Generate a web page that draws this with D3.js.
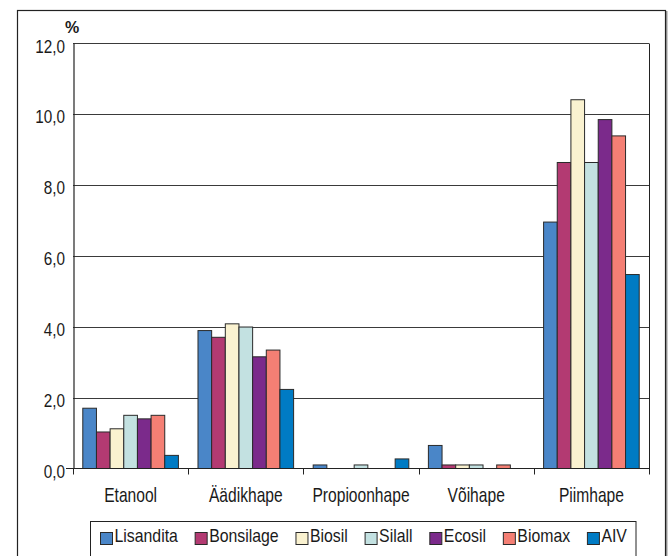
<!DOCTYPE html>
<html>
<head>
<meta charset="utf-8">
<script src="https://cdn.jsdelivr.net/npm/d3@7/dist/d3.min.js"></script>
<style>
  html, body { margin: 0; padding: 0; background: #fff; }
  svg { display: block; font-family: "Liberation Sans", Arial, sans-serif; }
</style>
</head>
<body>
<svg id="chart" width="671" height="556"></svg>
<script>
// Acid content of silages by additive, %
const categories = ["Etanool", "Äädikhape", "Propioonhape", "Võihape", "Piimhape"];
const seriesNames = ["Lisandita", "Bonsilage", "Biosil", "Silall", "Ecosil", "Biomax", "AIV"];
const seriesColors = ["#4A86C8", "#B33A72", "#FAF2D0", "#C3E1E1", "#7B2A8B", "#F47F74", "#007BC4"];

const lisandita = [1.70, 3.89, 0.10, 0.65, 6.95];
const bonsilage = [1.03, 3.70, 0.00, 0.10, 8.63];
const biosil    = [1.12, 4.08, 0.00, 0.10, 10.40];
const silall    = [1.50, 3.99, 0.10, 0.10, 8.63];
const ecosil    = [1.40, 3.15, 0.00, 0.00, 9.84];
const biomax    = [1.50, 3.34, 0.00, 0.10, 9.38];
const aiv       = [0.37, 2.23, 0.27, 0.00, 5.47];
const seriesValues = [lisandita, bonsilage, biosil, silall, ecosil, biomax, aiv];

const yTicks = [0, 2, 4, 6, 8, 10, 12];
const yUnit = "%";

const svg = d3.select("#chart");
const plot = { left: 73, right: 649, top: 43, bottom: 468.5 };

// Outer frame with a soft shadow on the right
svg.append("line").attr("x1", 666.5).attr("x2", 666.5).attr("y1", 11).attr("y2", 570)
  .attr("stroke", "#9a9a9a").attr("stroke-width", 2);
svg.append("rect").attr("x", 17.5).attr("y", 10.5).attr("width", 648).attr("height", 570)
  .attr("fill", "none").attr("stroke", "#222").attr("stroke-width", 1.2);

const x0 = d3.scaleBand().domain(categories).range([plot.left, plot.right])
  .paddingInner(0.17).paddingOuter(0.085);
const x1 = d3.scaleBand().domain(seriesNames).range([0, x0.bandwidth()]);
const y = d3.scaleLinear().domain([0, 12]).range([plot.bottom, plot.top]);

// Horizontal gridlines
svg.append("g").selectAll("line").data(yTicks.filter(d => d > 0)).join("line")
  .attr("x1", plot.left).attr("x2", plot.right)
  .attr("y1", d => Math.round(y(d)) + 0.5).attr("y2", d => Math.round(y(d)) + 0.5)
  .attr("stroke", "#3a3a3a").attr("stroke-width", 1);

// Right edge of the plot area
svg.append("line").attr("x1", plot.right + 0.5).attr("x2", plot.right + 0.5)
  .attr("y1", Math.round(y(12)) + 0.5).attr("y2", plot.bottom)
  .attr("stroke", "#222").attr("stroke-width", 1);

// Bars
const groups = svg.append("g").selectAll("g").data(categories).join("g")
  .attr("transform", c => `translate(${x0(c)},0)`);
groups.selectAll("rect")
  .data((c, ci) => seriesNames.map((s, si) => ({ s, si, v: seriesValues[si][ci] })).filter(d => d.v > 0))
  .join("rect")
  .attr("x", d => x1(d.s))
  .attr("y", d => y(d.v))
  .attr("width", x1.bandwidth())
  .attr("height", d => y(0) - y(d.v))
  .attr("fill", d => seriesColors[d.si])
  .attr("stroke", "#2a2a2a").attr("stroke-width", 1);

// Y axis
const yAxis = svg.append("g").attr("transform", `translate(${plot.left + 0.5},0)`)
  .call(d3.axisLeft(y).tickValues(yTicks).tickSize(0).tickSizeOuter(0).tickPadding(10)
    .tickFormat(d => d3.format(".1f")(d).replace(".", ",")));
yAxis.select(".domain").attr("stroke", "#222").attr("stroke-width", 1.2);
yAxis.selectAll("text")
  .attr("font-size", 18).attr("fill", "#1a1a1a")
  .attr("font-family", "Liberation Sans, Arial, sans-serif")
  .attr("dy", "0.5em")
  .attr("transform", "scale(0.85,1)");

// Unit label
svg.append("text").attr("x", 65).attr("y", 33).attr("font-size", 16).attr("font-weight", "bold")
  .attr("fill", "#1a1a1a").text(yUnit);

// X axis: baseline, boundary ticks and category labels
svg.append("line").attr("x1", 66).attr("x2", plot.right + 1)
  .attr("y1", y(0)).attr("y2", y(0)).attr("stroke", "#222").attr("stroke-width", 1.2);
const boundaries = categories.map(c => x0(c) - x0.step() * 0.085).concat([plot.right]);
svg.append("g").selectAll("line").data(boundaries).join("line")
  .attr("x1", d => Math.round(d) + 0.5).attr("x2", d => Math.round(d) + 0.5)
  .attr("y1", y(0)).attr("y2", y(0) + 6)
  .attr("stroke", "#222").attr("stroke-width", 1);

const xAxis = svg.append("g").attr("transform", `translate(0,${y(0)})`)
  .call(d3.axisBottom(x0).tickSize(0).tickSizeOuter(0));
xAxis.select(".domain").remove();
xAxis.selectAll("text")
  .attr("font-size", 20).attr("fill", "#1a1a1a")
  .attr("font-family", "Liberation Sans, Arial, sans-serif")
  .attr("x", 0).attr("y", 33.5).attr("dy", 0)
  .attr("transform", "scale(0.78,1)");

// Legend
const legend = svg.append("g");
legend.append("rect").attr("x", 90.5).attr("y", 521.5).attr("width", 545.5).attr("height", 60)
  .attr("fill", "#fff").attr("stroke", "#222").attr("stroke-width", 1);
let lx = 100.5;
const textScale = 0.88;
seriesNames.forEach((name, i) => {
  const g = legend.append("g").attr("transform", `translate(${lx},0)`);
  g.append("rect").attr("x", 0).attr("y", 532.5).attr("width", 12).attr("height", 12)
    .attr("fill", seriesColors[i]).attr("stroke", "#2a2a2a").attr("stroke-width", 1);
  const tg = g.append("g").attr("transform", `translate(14,542) scale(${textScale},1)`);
  const t = tg.append("text").attr("font-size", 18).attr("fill", "#1a1a1a").text(name);
  const w = t.node().getComputedTextLength() * textScale;
  lx += 14 + w + 17.3;
});
</script>
</body>
</html>
